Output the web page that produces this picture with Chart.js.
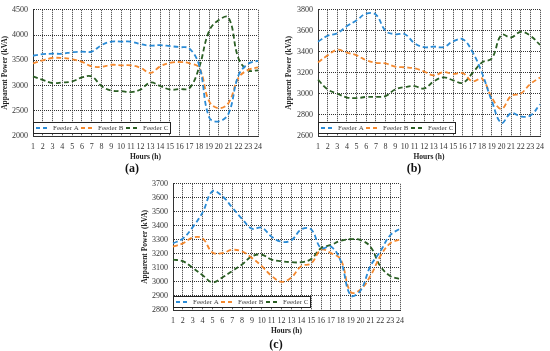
<!DOCTYPE html>
<html>
<head>
<meta charset="utf-8">
<script src="https://cdn.jsdelivr.net/npm/chart.js@4.4.0/dist/chart.umd.min.js"></script>
<style>
  body { margin: 0; background: #fff; width: 550px; height: 351px; position: relative; overflow: hidden; font-family: 'Liberation Serif', serif; }
  .box { position: absolute; }
  .cap { position: absolute; font-weight: bold; font-size: 12px; transform: translate(-50%, -50%); color: #111; }
</style>
</head>
<body>
<div class="box" style="left:0;top:0;width:268px;height:165px"><canvas id="chartA"></canvas></div>
<div class="box" style="left:282px;top:0;width:268px;height:165px"><canvas id="chartB"></canvas></div>
<div class="box" style="left:140px;top:174px;width:270px;height:165px"><canvas id="chartC"></canvas></div>
<div class="cap" style="left:132px;top:168px">(a)</div>
<div class="cap" style="left:414px;top:168px">(b)</div>
<div class="cap" style="left:276px;top:344px">(c)</div>
<script>
// hours 1..24
const hours = ['1','2','3','4','5','6','7','8','9','10','11','12','13','14','15','16','17','18','19','20','21','22','23','24'];

// (a)
const feederA_a = [3590,3620,3630,3630,3660,3670,3670,3800,3870,3870,3870,3820,3790,3800,3780,3760,3730,3390,2370,2290,2450,3200,3430,3490];
const feederB_a = [3440,3500,3545,3545,3520,3470,3380,3370,3410,3400,3400,3350,3250,3380,3450,3465,3440,3350,2690,2550,2660,3150,3310,3360];
const feederC_a = [3180,3110,3050,3060,3080,3160,3180,2990,2900,2890,2870,2920,3060,2990,2920,2930,2950,3370,4080,4300,4345,3540,3300,3300];
const rangeA = [2000, 4500, 500];

// (b)
const feederA_b = [3497,3553,3578,3645,3700,3763,3754,3600,3568,3568,3482,3445,3450,3445,3500,3520,3400,3197,2935,2725,2817,2786,2795,2900];
const feederB_b = [3300,3367,3420,3392,3367,3320,3296,3290,3260,3253,3244,3213,3176,3207,3190,3197,3120,3145,2966,2858,2980,3003,3095,3157];
const feederC_b = [3135,3043,3003,2966,2960,2972,2972,2980,3043,3065,3074,3052,3120,3157,3130,3105,3197,3300,3336,3560,3537,3590,3553,3466];
const rangeB = [2600, 3800, 200];

// (c)
const feederA_c = [3275,3310,3391,3496,3647,3612,3531,3450,3380,3387,3322,3287,3298,3375,3375,3241,3252,3148,2904,2939,3113,3217,3333,3380];
const feederB_c = [3252,3275,3317,3310,3210,3206,3229,3217,3171,3113,3043,3001,3032,3113,3132,3229,3206,3159,2928,2946,3043,3183,3275,3303];
const feederC_c = [3159,3148,3101,3048,2997,3032,3078,3125,3183,3194,3159,3148,3141,3141,3164,3241,3264,3294,3305,3298,3252,3113,3043,3020];
const rangeC = [2800, 3700, 100];

const blue = '#2a8bd6', orange = '#f5892e', green = '#2a5e23';
const gridColor = '#333';

Chart.defaults.font.family = "'Liberation Serif', serif";
Chart.defaults.color = '#333';

// legend drawn inside the plot, bottom-left, with a frame
const boxLegend = {
  id: 'boxLegend',
  afterDraw(chart) {
    const { ctx, chartArea } = chart;
    const w = 138, h = 12;
    const x0 = chartArea.left, y0 = chartArea.bottom - 2 - h;
    ctx.save();
    ctx.fillStyle = '#fff';
    ctx.fillRect(x0, y0, w, h);
    ctx.strokeStyle = '#222';
    ctx.lineWidth = 1;
    ctx.strokeRect(x0 + 0.5, y0 + 0.5, w - 1, h - 1);
    ctx.font = "7px 'Liberation Serif'";
    ctx.textBaseline = 'middle';
    const cy = y0 + h / 2;
    chart.data.datasets.forEach((ds, i) => {
      const lx = x0 + 3 + i * 45;
      ctx.strokeStyle = ds.borderColor;
      ctx.lineWidth = 1.8;
      ctx.setLineDash([4, 3]);
      ctx.beginPath();
      ctx.moveTo(lx, cy);
      ctx.lineTo(lx + 14, cy);
      ctx.stroke();
      ctx.setLineDash([]);
      ctx.fillStyle = '#444';
      ctx.fillText(ds.label, lx + 17, cy + 0.5);
    });
    ctx.restore();
  }
};

function makeChart(id, a, b, c, range, yW, yTitlePad, padRight) {
  const line = (label, data, color) => ({
    label: label, data: data, borderColor: color, backgroundColor: color,
    borderWidth: 1.8, borderDash: [5, 3], tension: 0.4, pointRadius: 0, fill: false
  });
  return new Chart(document.getElementById(id), {
    type: 'line',
    data: {
      labels: hours,
      datasets: [line('Feeder A', a, blue), line('Feeder B', b, orange), line('Feeder C', c, green)]
    },
    options: {
      responsive: true,
      maintainAspectRatio: false,
      animation: false,
      layout: { padding: { top: 7, right: padRight, left: 0, bottom: 0 } },
      plugins: { legend: { display: false }, tooltip: { enabled: false } },
      scales: {
        x: {
          grid: { color: gridColor, drawTicks: false, lineWidth: 1 },
          border: { color: gridColor, dash: [1, 1] },
          ticks: { autoSkip: false, maxRotation: 0, padding: 6, font: { size: 8 }, color: '#333' },
          title: { display: true, text: 'Hours (h)', font: { size: 7.5, weight: 'bold' }, color: '#222', padding: { top: 0, bottom: 3.5 } },
          afterFit: s => { s.height = 29; }
        },
        y: {
          min: range[0], max: range[1],
          grid: { color: gridColor, drawTicks: false, lineWidth: 1 },
          border: { color: gridColor, dash: [1, 1] },
          ticks: { stepSize: range[2], padding: 5, font: { size: 8 }, color: '#333', callback: v => String(v) },
          title: { display: true, text: 'Apparent Power (kVA)', font: { size: 7.5, weight: 'bold' }, color: '#222', padding: { top: yTitlePad, bottom: 0 } },
          afterFit: s => { s.width = yW; }
        }
      }
    },
    plugins: [boxLegend]
  });
}

makeChart('chartA', feederA_a, feederB_a, feederC_a, rangeA, 33, 1, 10);
makeChart('chartB', feederA_b, feederB_b, feederC_b, rangeB, 36, 3, 6);
makeChart('chartC', feederA_c, feederB_c, feederC_c, rangeC, 33, 1, 7);
</script>
</body>
</html>
